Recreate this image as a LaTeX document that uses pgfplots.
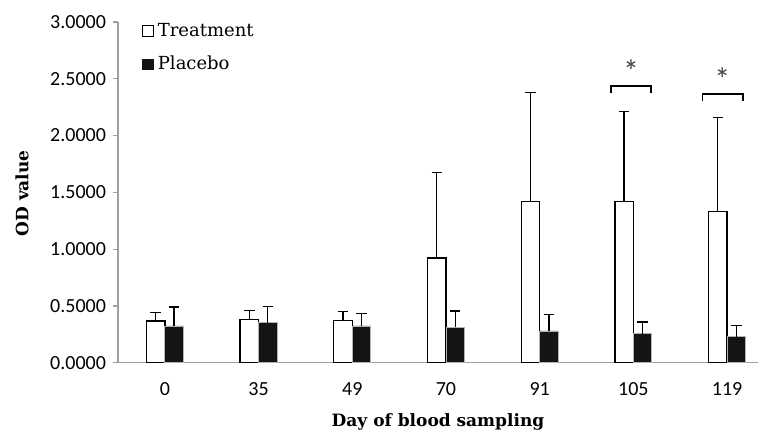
\documentclass[border=0pt]{standalone}
\usepackage{fontspec}
\setmainfont{Carlito}
\newfontfamily\serif{DejaVu Serif}
\usepackage{pgfplots}
\pgfplotsset{compat=1.18}

\definecolor{axgray}{HTML}{A0A0A0}
\definecolor{barblack}{HTML}{141414}

\begin{document}
\begin{tikzpicture}
  % page = 758x430 px at 0.5pt per px; axis box from (118,22) to (758,362.7)
  \useasboundingbox (-59pt,-33.65pt) rectangle (320pt,181.35pt);
  \begin{axis}[
    at={(0,0)}, anchor=south west,
    scale only axis,
    width=320pt, height=170.35pt,
    ybar=0pt, bar width=9.25pt,
    xmin=-0.5, xmax=6.33,
    ymin=0, ymax=3,
    axis x line=bottom, axis y line=left,
    axis line style={-, draw=axgray, line width=0.6pt},
    xtick={0,...,6},
    xticklabels={0,35,49,70,91,105,119},
    x tick style={draw=none},
    ytick={0,0.5,...,3},
    y tick style={draw=axgray, line width=0.6pt},
    tick align=outside, major tick length=2.5pt,
    yticklabel style={/pgf/number format/.cd, fixed, fixed zerofill, precision=4},
    /pgf/number format/assume math mode=true,
    ticklabel style={font=\fontsize{10}{12}\selectfont},
    xticklabel style={yshift=-4pt},
    xlabel={\serif\bfseries Day of blood sampling},
    ylabel={\serif\bfseries OD value},
    every axis x label/.style={at={(axis description cs:0.5,-0.186)}, anchor=base, font=\fontsize{8.5}{10}\selectfont},
    every axis y label/.style={at={(axis description cs:-0.150,0.497)}, rotate=90, anchor=center, font=\fontsize{8.5}{10}\selectfont},
    error bars/y dir=plus, error bars/y explicit,
    error bars/error mark=-,
    error bars/error mark options={rotate=90, line width=0.65pt, mark size=2.6pt, black},
    error bars/error bar style={line width=0.65pt, black},
    legend cell align=left,
    legend style={draw=none, fill=none, at={(0.037,1.01)}, anchor=north west,
      font=\serif\fontsize{9}{11}\selectfont, row sep=4.5pt, inner sep=0pt},
  ]
    \addplot[fill=white, draw=black, line width=0.65pt,
      legend image code/.code={\draw[fill=white, draw=black, line width=0.5pt] (0pt,-2.7pt) rectangle (5.4pt,2.7pt);}]
      coordinates {
      (0,0.368) +- (0,0.073)
      (1,0.383) +- (0,0.079)
      (2,0.374) +- (0,0.076)
      (3,0.921) +- (0,0.753)
      (4,1.418) +- (0,0.960)
      (5,1.418) +- (0,0.792)
      (6,1.333) +- (0,0.829)
      }; % Treatment
    \addplot[fill=barblack, draw=gray!60, line width=0.4pt,
      legend image code/.code={\draw[fill=barblack, draw=barblack, line width=0.5pt] (0pt,-2.7pt) rectangle (5.4pt,2.7pt);}]
      coordinates {
      (0,0.324) +- (0,0.166)
      (1,0.353) +- (0,0.141)
      (2,0.324) +- (0,0.112)
      (3,0.312) +- (0,0.144)
      (4,0.280) +- (0,0.147)
      (5,0.256) +- (0,0.103)
      (6,0.230) +- (0,0.097)
      }; % Placebo
    \legend{Treatment, Placebo}

    % significance brackets
    \draw[black, line width=0.7pt] (axis cs:4.76,2.378) -- (axis cs:4.76,2.436) -- (axis cs:5.19,2.436) -- (axis cs:5.19,2.378);
    \node[font=\fontsize{16}{16}\selectfont, text=black!75] at (axis cs:4.975,2.565) {*};
    \draw[black, line width=0.7pt] (axis cs:5.74,2.307) -- (axis cs:5.74,2.365) -- (axis cs:6.17,2.365) -- (axis cs:6.17,2.307);
    \node[font=\fontsize{16}{16}\selectfont, text=black!75] at (axis cs:5.95,2.495) {*};
  \end{axis}
\end{tikzpicture}
\end{document}
